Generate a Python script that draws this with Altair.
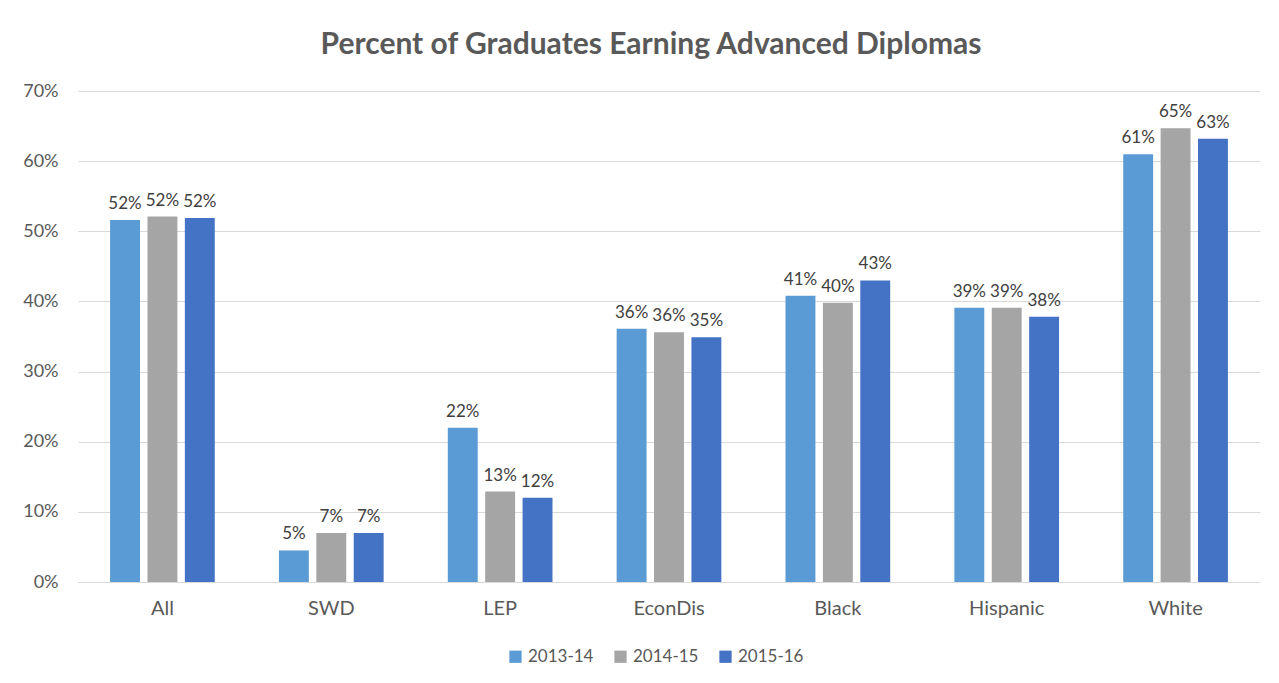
import altair as alt
import pandas as pd

groups = ["All", "SWD", "LEP", "EconDis", "Black", "Hispanic", "White"]
years = ["2013-14", "2014-15", "2015-16"]
v_2013_14 = [0.516, 0.045, 0.220, 0.361, 0.408, 0.391, 0.610]
v_2014_15 = [0.521, 0.070, 0.129, 0.356, 0.398, 0.391, 0.647]
v_2015_16 = [0.519, 0.070, 0.120, 0.349, 0.430, 0.378, 0.632]
colors = ["#5B9BD5", "#A5A5A5", "#4472C4"]

rows = []
for yr, vals in zip(years, [v_2013_14, v_2014_15, v_2015_16]):
    for g, v in zip(groups, vals):
        rows.append({"group": g, "year": yr, "value": v})
df = pd.DataFrame(rows)

FONT = "Lato"

x = alt.X("group:N", sort=groups, title=None,
          scale=alt.Scale(paddingInner=0.38, paddingOuter=0.19),
          axis=alt.Axis(labelAngle=0, labelFontSize=20, labelColor="#595959",
                        labelPadding=16, ticks=False, domainColor="#D9D9D9",
                        domainWidth=1, labelFont=FONT))
xo = alt.XOffset("year:N", sort=years, scale=alt.Scale(paddingInner=0.2))
y = alt.Y("value:Q", title=None,
          scale=alt.Scale(domain=[0, 0.7], nice=False),
          axis=alt.Axis(format=".0%", values=[0, 0.1, 0.2, 0.3, 0.4, 0.5, 0.6, 0.7],
                        labelFontSize=18, labelColor="#595959", labelPadding=20,
                        ticks=False, domain=False, gridColor="#D9D9D9",
                        gridWidth=1, labelFont=FONT))

base = alt.Chart(df).encode(x=x, xOffset=xo, y=y)

bars = base.mark_bar().encode(
    color=alt.Color("year:N", sort=years,
                    scale=alt.Scale(domain=years, range=colors),
                    legend=alt.Legend(title=None, orient="none", direction="horizontal",
                                      legendX=429, legendY=557, symbolType="square",
                                      symbolSize=150, symbolStrokeWidth=0,
                                      labelFontSize=17, labelColor="#595959",
                                      labelFont=FONT, columnPadding=18,
                                      symbolOpacity=1))
)

labels = base.mark_text(baseline="bottom", dy=-7, fontSize=17, color="#404040",
                        font=FONT).encode(text=alt.Text("value:Q", format=".0%"))

chart = (bars + labels).properties(
    width=1182, height=491,
    title=alt.TitleParams("Percent of Graduates Earning Advanced Diplomas",
                          fontSize=30, font=FONT, fontWeight="bold",
                          color="#595959", anchor="middle", dx=-18, offset=22),
    autosize=alt.AutoSizeParams(type="none"),
    padding={"left": 70, "top": 83, "right": 10, "bottom": 88},
    background="white",
).configure_view(stroke=None)

chart.save("out.html", embed_options={"renderer": "svg", "actions": False})
